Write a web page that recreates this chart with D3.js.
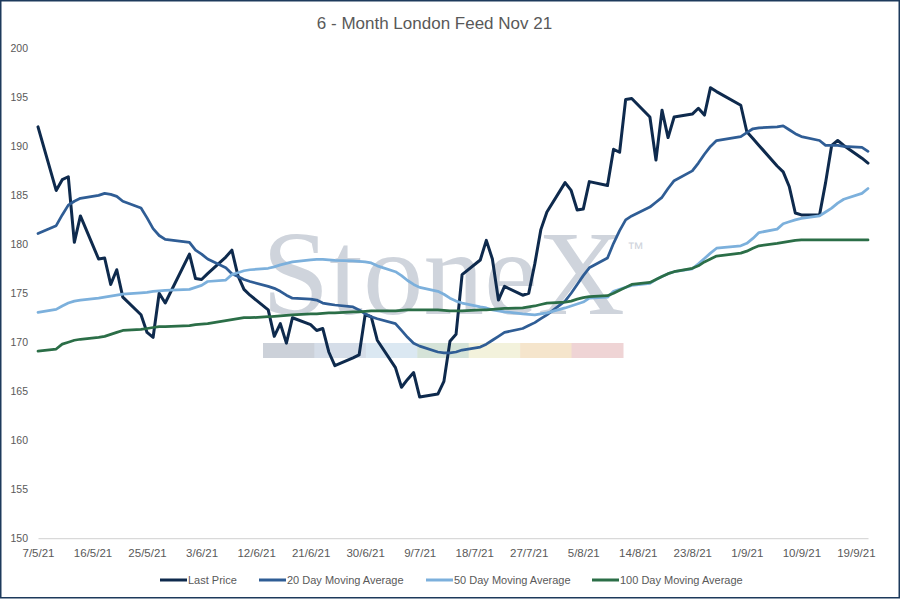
<!DOCTYPE html>
<html>
<head>
<meta charset="utf-8">
<script src="https://cdn.jsdelivr.net/npm/d3@7"></script>
<style>
  html, body { margin: 0; padding: 0; background: #fff; }
  svg { display: block; }
  text { font-family: "Liberation Sans", Arial, sans-serif; }
</style>
</head>
<body>
<svg id="chart" width="903" height="600"></svg>
<script>
// ---------- DATA ----------
const title = "6 - Month London Feed Nov 21";

const dates = [
  "2021-05-07","2021-05-10","2021-05-11","2021-05-12","2021-05-13","2021-05-14",
  "2021-05-17","2021-05-18","2021-05-19","2021-05-20","2021-05-21",
  "2021-05-24","2021-05-25","2021-05-26","2021-05-27","2021-05-28",
  "2021-06-01","2021-06-02","2021-06-03","2021-06-04",
  "2021-06-07","2021-06-08","2021-06-09","2021-06-10","2021-06-11",
  "2021-06-14","2021-06-15","2021-06-16","2021-06-17","2021-06-18",
  "2021-06-21","2021-06-22","2021-06-23","2021-06-24","2021-06-25",
  "2021-06-28","2021-06-29","2021-06-30","2021-07-01","2021-07-02",
  "2021-07-05","2021-07-06","2021-07-07","2021-07-08","2021-07-09",
  "2021-07-12","2021-07-13","2021-07-14","2021-07-15","2021-07-16",
  "2021-07-19","2021-07-20","2021-07-21","2021-07-22","2021-07-23",
  "2021-07-26","2021-07-27","2021-07-28","2021-07-29","2021-07-30",
  "2021-08-02","2021-08-03","2021-08-04","2021-08-05","2021-08-06",
  "2021-08-09","2021-08-10","2021-08-11","2021-08-12","2021-08-13",
  "2021-08-16","2021-08-17","2021-08-18","2021-08-19","2021-08-20",
  "2021-08-23","2021-08-24","2021-08-25","2021-08-26","2021-08-27",
  "2021-08-31","2021-09-01","2021-09-02","2021-09-03",
  "2021-09-06","2021-09-07","2021-09-08","2021-09-09","2021-09-10",
  "2021-09-13","2021-09-14","2021-09-15","2021-09-16","2021-09-17",
  "2021-09-20","2021-09-21"
];

const lastPrice = [
  192.0,185.5,186.6,186.9,180.2,182.9,
  178.5,178.6,175.9,177.4,174.6,
  172.8,171.0,170.5,175.0,174.0,
  179.0,176.5,176.4,177.0,
  178.7,179.4,176.8,175.4,174.8,
  173.3,170.6,171.9,169.9,172.5,
  171.8,171.2,171.4,169.0,167.6,
  168.4,168.7,172.8,172.6,170.2,
  167.4,165.4,166.2,166.9,164.4,
  164.7,166.0,170.1,170.8,176.9,
  178.4,180.4,178.5,174.3,175.7,
  174.8,175.0,178.0,181.5,183.3,
  186.3,185.5,183.5,183.6,186.4,
  186.0,189.7,189.4,194.8,194.9,
  193.0,188.6,193.7,190.9,193.0,
  193.3,193.9,193.2,196.0,195.6,
  194.2,191.5,190.8,190.1,
  188.0,187.4,185.9,183.2,183.0,
  183.0,186.3,190.1,190.6,190.1,
  188.8,188.3
];

const ma20 = [
  181.1,181.9,183.0,184.0,184.4,184.7,
  185.0,185.2,185.1,184.9,184.4,
  183.7,182.7,181.6,180.9,180.5,
  180.2,179.4,179.0,178.5,
  177.6,177.0,176.7,176.4,176.2,
  175.7,175.5,175.2,174.8,174.5,
  174.4,174.3,174.0,173.9,173.8,
  173.6,173.3,172.9,172.6,172.4,
  171.9,171.2,170.5,169.9,169.6,
  169.0,168.9,168.9,169.0,169.2,
  169.5,169.8,170.2,170.6,171.0,
  171.4,171.7,172.0,172.4,172.8,
  174.2,175.0,175.9,176.8,177.6,
  178.6,180.1,181.4,182.5,182.9,
  183.8,184.3,184.8,185.7,186.5,
  187.5,188.3,189.2,190.0,190.6,
  191.0,191.4,191.8,191.9,
  192.0,192.1,191.7,191.3,191.0,
  190.6,190.1,190.1,190.1,190.0,
  189.9,189.5
];

const ma50 = [
  173.05,173.35,173.7,174.0,174.2,174.3,
  174.5,174.6,174.7,174.8,174.9,
  175.05,175.1,175.2,175.25,175.3,
  175.4,175.6,175.8,176.2,
  176.35,176.9,177.1,177.3,177.4,
  177.55,177.7,177.9,178.05,178.2,
  178.4,178.45,178.45,178.4,178.35,
  178.3,178.25,178.2,178.1,177.8,
  177.2,176.8,176.3,175.9,175.6,
  175.2,174.9,174.5,174.2,174.0,
  173.6,173.5,173.3,173.2,173.1,
  172.9,172.85,172.8,172.9,173.0,
  173.5,173.7,173.9,174.1,174.5,
  174.6,175.2,175.4,175.6,175.8,
  176.0,176.4,176.7,177.0,177.2,
  177.5,178.0,178.55,179.1,179.6,
  179.85,180.1,180.6,181.2,
  181.55,182.1,182.3,182.5,182.65,
  182.9,183.3,183.7,184.2,184.6,
  185.2,185.7
];

const ma100 = [
  169.1,169.3,169.8,170.0,170.2,170.3,
  170.5,170.6,170.8,171.0,171.2,
  171.3,171.4,171.5,171.6,171.6,
  171.7,171.8,171.85,171.9,
  172.2,172.3,172.4,172.5,172.5,
  172.6,172.65,172.7,172.75,172.8,
  172.9,172.9,172.95,173.0,173.0,
  173.1,173.1,173.15,173.2,173.2,
  173.2,173.25,173.3,173.3,173.3,
  173.3,173.25,173.2,173.2,173.2,
  173.3,173.3,173.35,173.4,173.45,
  173.5,173.6,173.7,173.85,174.0,
  174.1,174.2,174.4,174.55,174.65,
  174.75,175.0,175.3,175.6,175.9,
  176.1,176.4,176.7,177.0,177.2,
  177.55,177.8,178.2,178.5,178.8,
  179.1,179.3,179.6,179.85,
  180.1,180.2,180.3,180.4,180.45,
  180.45,180.45,180.45,180.45,180.45,
  180.45,180.45
];

const seriesNames = ["Last Price","20 Day Moving Average","50 Day Moving Average","100 Day Moving Average"];
const yTicks = [150,155,160,165,170,175,180,185,190,195,200];
const xTickDates = [
  "2021-05-07","2021-05-16","2021-05-25","2021-06-03","2021-06-12","2021-06-21",
  "2021-06-30","2021-07-09","2021-07-18","2021-07-27","2021-08-05","2021-08-14",
  "2021-08-23","2021-09-01","2021-09-10","2021-09-19"
];
const watermarkText = "StoneX";

// ---------- STYLE / LAYOUT ----------
const colors = ["#0e2a4d", "#2f5d95", "#7cb0dc", "#2b6e47"];
const widths = [3, 2.75, 2.75, 2.75];
const bandColors = ["#ccd1d9","#d5dde8","#dbe8f2","#d5e3d8","#f3f2dc","#f5e5cc","#efd4d5"];

const parse = d3.utcParse("%Y-%m-%d");
const fmt = d3.utcFormat("%-d/%-m/%y");

const svg = d3.select("#chart");

// border
svg.append("rect").attr("x", 0.75).attr("y", 0.75).attr("width", 898.5).attr("height", 597)
  .attr("fill", "#fff").attr("stroke", "#1d3a5c").attr("stroke-width", 1.5);

const x = d3.scaleUtc()
  .domain([parse(dates[0]), parse(dates[dates.length - 1])])
  .range([38, 868]);
const y = d3.scaleLinear().domain([150, 200]).range([538, 48.5]);

// watermark
const wm = svg.append("g");
wm.append("text").attr("x", 262).attr("y", 314)
  .style("font-family", "'Liberation Serif', 'Times New Roman', serif")
  .attr("font-size", 121).attr("fill", "#cfd4dc").text(watermarkText);
wm.append("text").attr("x", 627).attr("y", 254)
  .attr("font-size", 17).attr("fill", "#cfd4dc").text("\u2122");
const bandX = d3.scaleBand().domain(d3.range(bandColors.length)).range([263, 623]);
wm.selectAll("rect.band").data(bandColors).join("rect")
  .attr("x", (d, i) => bandX(i)).attr("y", 343)
  .attr("width", bandX.bandwidth() + 0.5).attr("height", 15).attr("fill", d => d);

// title
svg.append("text").attr("x", 434.5).attr("y", 29).attr("text-anchor", "middle")
  .attr("font-size", 17).attr("fill", "#595959").text(title);

// y axis labels
svg.append("g").selectAll("text").data(yTicks).join("text")
  .attr("x", 28).attr("y", d => y(d)).attr("dy", "0.35em")
  .attr("text-anchor", "end").attr("font-size", 10.5).attr("fill", "#595959")
  .text(d => d);

// x axis line at 150
const xAxis = d3.axisBottom(x)
  .tickValues(xTickDates.map(parse))
  .tickFormat(fmt)
  .tickSize(0)
  .tickPadding(11);
const gx = svg.append("g").attr("transform", `translate(0,${y(150)})`).call(xAxis);
gx.select(".domain").attr("stroke", "#d9d9d9").attr("stroke-width", 1.25);
gx.selectAll("text").attr("font-size", 11.5).attr("fill", "#595959")
  .style("font-family", "'Liberation Sans', Arial, sans-serif");

// lines
const allSeries = [lastPrice, ma20, ma50, ma100];
const line = d3.line()
  .x((d, i) => x(parse(dates[i])))
  .y(d => y(d));
svg.append("g").selectAll("path").data(allSeries).join("path")
  .attr("d", d => line(d))
  .attr("fill", "none")
  .attr("stroke", (d, i) => colors[i])
  .attr("stroke-width", (d, i) => widths[i])
  .attr("stroke-linejoin", "round")
  .attr("stroke-linecap", "round");

// legend
const legendX = [160, 259, 426, 592];
const lg = svg.append("g").attr("transform", "translate(0,580)");
const items = lg.selectAll("g").data(seriesNames).join("g")
  .attr("transform", (d, i) => `translate(${legendX[i]},0)`);
items.append("line").attr("x1", 0).attr("x2", 27).attr("y1", 0).attr("y2", 0)
  .attr("stroke", (d, i) => colors[i]).attr("stroke-width", 3);
items.append("text").attr("x", 28).attr("y", 0).attr("dy", "0.35em")
  .attr("font-size", 11).attr("fill", "#595959").text(d => d);
</script>
</body>
</html>
